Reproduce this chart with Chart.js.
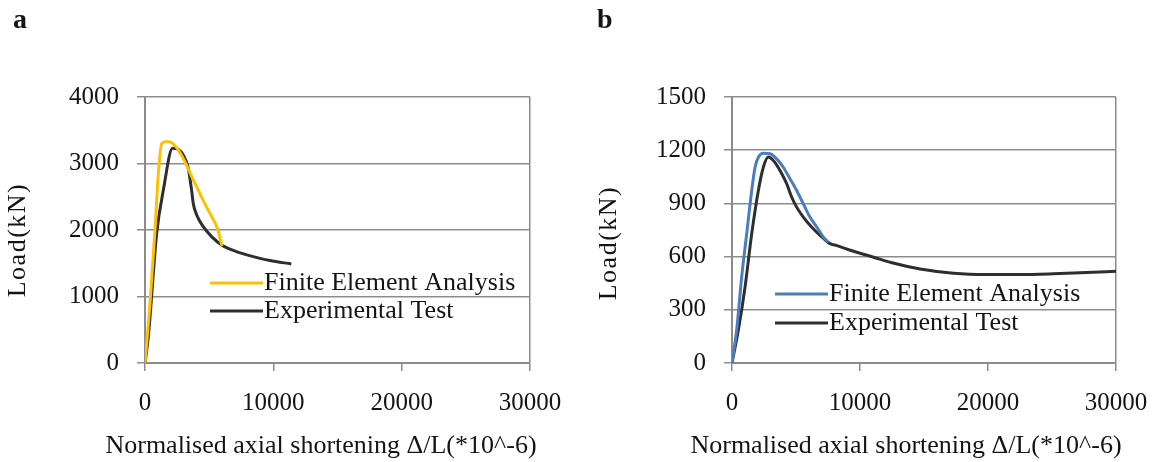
<!DOCTYPE html>
<html>
<head>
<meta charset="utf-8">
<script src="https://cdn.jsdelivr.net/npm/chart.js@4.4.1/dist/chart.umd.min.js"></script>
<style>
  body { margin: 0; background: #fff; overflow: hidden; }
  .panel { position: absolute; top: 0; height: 462px; }
  #panelA { left: 0; width: 580px; }
  #panelB { left: 580px; width: 579px; }
</style>
</head>
<body>
<div class="panel" id="panelA"><canvas id="chartA" width="580" height="462"></canvas></div>
<div class="panel" id="panelB"><canvas id="chartB" width="579" height="462"></canvas></div>
<script>
// (a) normalised shortening (*10^-6) vs load (kN)
const feaStrainA = [0, 390, 780, 1040, 1300, 1700, 2100, 2600, 3100, 3650, 4150, 4650, 5200, 5650, 6000];
const feaLoadA = [0, 900, 2000, 2850, 3300, 3330, 3310, 3200, 3030, 2800, 2600, 2400, 2200, 2020, 1760];
const testStrainA = [0, 260, 910, 1430, 2150, 2600, 2980, 3370, 3630, 3760, 4020, 4540, 5190, 5970, 7130, 8430, 9730, 11400];
const testLoadA = [0, 400, 1950, 2600, 3230, 3210, 3130, 2930, 2600, 2400, 2230, 2050, 1900, 1775, 1675, 1600, 1540, 1490];

// (b)
const feaStrainB = [0, 365, 755, 1150, 1540, 1800, 2060, 2450, 2970, 3490, 4010, 4530, 5050, 5570, 6090, 6620, 7140, 7530];
const feaLoadB = [0, 186, 485, 730, 973, 1104, 1160, 1183, 1180, 1151, 1104, 1039, 973, 898, 823, 767, 710, 682];
const testStrainB = [0, 495, 1020, 1540, 2060, 2450, 2840, 3230, 3750, 4270, 4660, 5050, 5570, 6220, 6880, 7660, 8200, 9500, 11000, 12500, 14700, 17300, 19900, 22500, 25100, 27700, 30000];
const testLoadB = [0, 186, 429, 729, 973, 1104, 1161, 1142, 1086, 1011, 936, 879, 823, 767, 720, 673, 662, 630, 598, 565, 530, 506, 499, 499, 503, 510, 517];

const xTicks = [0, 10000, 20000, 30000];
const yTicksA = [0, 1000, 2000, 3000, 4000];
const yTicksB = [0, 300, 600, 900, 1200, 1500];

const seriesLabels = ['Finite Element Analysis', 'Experimental Test'];
const xTitle = 'Normalised axial shortening \u0394/L(*10^-6)';
const yTitle = 'Load(kN)';

const FONT = '"Liberation Serif", "Times New Roman", serif';
const TEXT = '#141414';
const GRID = '#8c8c8c';

function toPoints(xs, ys) {
    return xs.map((x, i) => ({ x: x, y: ys[i] }));
}

// panel letter, axis titles and the in-plot legend
const annotations = {
    id: 'annotations',
    afterDraw(chart, args, opts) {
        const ctx = chart.ctx;
        ctx.save();
        ctx.fillStyle = TEXT;

        ctx.font = 'bold 28px ' + FONT;
        ctx.textAlign = 'left';
        ctx.textBaseline = 'alphabetic';
        ctx.fillText(opts.letter, opts.letterX, 28);

        ctx.font = '26px ' + FONT;
        ctx.textAlign = 'center';
        ctx.fillText(xTitle, opts.xTitleX, 453);

        ctx.save();
        ctx.translate(opts.yTitleX, opts.yTitleY);
        ctx.rotate(-Math.PI / 2);
        ctx.textBaseline = 'middle';
        ctx.letterSpacing = '1.5px';
        ctx.fillText(yTitle, 0, 0);
        ctx.restore();

        ctx.font = '26px ' + FONT;
        ctx.textAlign = 'left';
        ctx.textBaseline = 'middle';
        chart.data.datasets.forEach((ds, i) => {
            const y = opts.legendY + i * opts.legendGap;
            ctx.strokeStyle = ds.borderColor;
            ctx.lineWidth = 3;
            ctx.beginPath();
            ctx.moveTo(opts.legendX, y);
            ctx.lineTo(opts.legendX + 53, y);
            ctx.stroke();
            ctx.fillText(ds.label, opts.legendX + 54, y);
        });
        ctx.restore();
    }
};

function makeChart(id, cfg) {
    const ctx = document.getElementById(id).getContext('2d');
    const lineStyle = {
        borderWidth: 3,
        pointRadius: 0,
        cubicInterpolationMode: 'monotone',
        fill: false
    };
    return new Chart(ctx, {
        type: 'line',
        data: {
            datasets: [Object.assign({
                label: seriesLabels[0],
                data: toPoints(cfg.feaX, cfg.feaY),
                borderColor: cfg.feaColor
            }, lineStyle), Object.assign({
                label: seriesLabels[1],
                data: toPoints(cfg.testX, cfg.testY),
                borderColor: '#2e2e2e'
            }, lineStyle)]
        },
        options: {
            responsive: false,
            animation: false,
            devicePixelRatio: 1,
            layout: {
                padding: { top: 97, right: cfg.padRight, bottom: 0, left: 0 }
            },
            plugins: {
                legend: { display: false },
                tooltip: { enabled: false },
                annotations: cfg.notes
            },
            scales: {
                x: {
                    type: 'linear',
                    min: 0,
                    max: 30000,
                    afterBuildTicks: s => { s.ticks = xTicks.map(v => ({ value: v })); },
                    afterFit: s => {
                        s.height = 99;
                        s.paddingLeft = 0;
                        s.paddingRight = 0;
                    },
                    grid: {
                        color: c => (c.tick && c.tick.value === 30000) ? GRID : 'rgba(0,0,0,0)',
                        tickColor: GRID,
                        tickLength: 8,
                        lineWidth: 1.5
                    },
                    border: { color: GRID, width: 2 },
                    ticks: {
                        font: { family: FONT, size: 25 },
                        color: TEXT,
                        padding: 17,
                        maxRotation: 0,
                        callback: v => String(v)
                    }
                },
                y: {
                    min: 0,
                    max: cfg.yMax,
                    afterBuildTicks: s => { s.ticks = cfg.yTicks.map(v => ({ value: v })); },
                    afterFit: s => { s.width = cfg.axisLeft; },
                    grid: {
                        color: GRID,
                        tickLength: 8,
                        lineWidth: 1.5
                    },
                    border: { color: GRID, width: 2 },
                    ticks: {
                        font: { family: FONT, size: 25 },
                        color: TEXT,
                        padding: 18,
                        callback: v => String(v)
                    }
                }
            }
        },
        plugins: [annotations]
    });
}

const chartA = makeChart('chartA', {
    feaX: feaStrainA, feaY: feaLoadA,
    testX: testStrainA, testY: testLoadA,
    feaColor: '#ffc000',
    yMax: 4000, yTicks: yTicksA,
    axisLeft: 145, padRight: 50,
    notes: { letter: 'a', letterX: 13, xTitleX: 321, yTitleX: 18, yTitleY: 240, legendX: 210, legendY: 283, legendGap: 28 }
});

const chartB = makeChart('chartB', {
    feaX: feaStrainB, feaY: feaLoadB,
    testX: testStrainB, testY: testLoadB,
    feaColor: '#4a7ebb',
    yMax: 1500, yTicks: yTicksB,
    axisLeft: 152, padRight: 43,
    notes: { letter: 'b', letterX: 17, xTitleX: 326, yTitleX: 29, yTitleY: 243, legendX: 195, legendY: 294, legendGap: 29 }
});
</script>
</body>
</html>
